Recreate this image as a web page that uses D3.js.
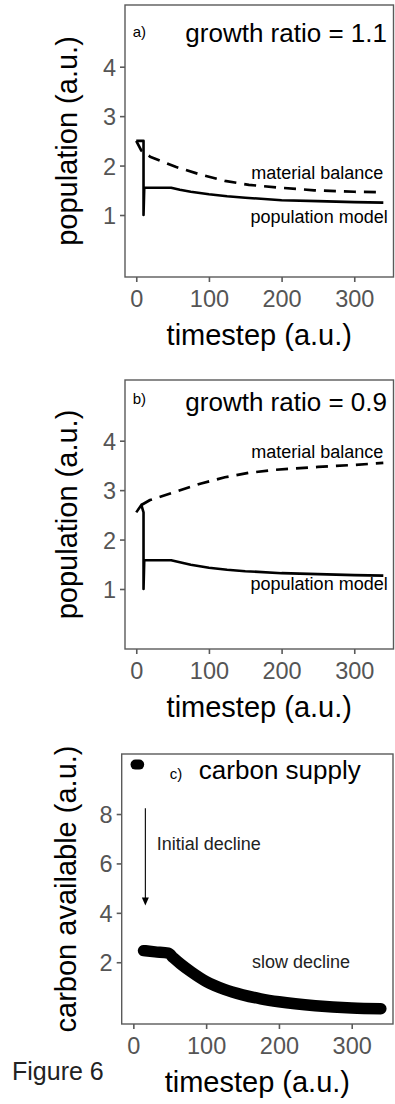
<!DOCTYPE html>
<html>
<head>
<meta charset="utf-8">
<script src="https://cdn.jsdelivr.net/npm/d3@7"></script>
<style>
  body { margin: 0; background: #fff; }
  svg text { font-family: "Liberation Sans", Arial, sans-serif; }
</style>
</head>
<body>
<svg id="graph" width="395" height="1104"></svg>
<script>
// population model and material balance, panel a (growth ratio 1.1)
var popA = [[0,2.5],[10,2.5],[10,1.0],[11,1.55],[48,1.55],[60,1.51],[75,1.47],[100,1.42],[125,1.38],[150,1.35],[200,1.30],[250,1.28],[300,1.26],[340,1.25]]
var matA = [[0,2.5],[7,2.3],[19,2.18],[55,1.97],[88,1.82],[122,1.69],[155,1.61],[200,1.55],[245,1.50],[300,1.47],[340,1.46]]

// panel b (growth ratio 0.9)
var popB = [[0,2.55],[7,2.7],[10,2.55],[10,1.0],[11,1.58],[48,1.58],[60,1.54],[75,1.49],[100,1.43],[125,1.39],[150,1.36],[200,1.32],[250,1.30],[300,1.28],[340,1.27]]
var matB = [[7,2.7],[19,2.8],[55,2.97],[88,3.13],[122,3.26],[155,3.35],[190,3.41],[250,3.47],[300,3.51],[340,3.55]]

// panel c, carbon supply
var carbonStart = [[3,10.0],[8,10.0]]
var carbonRest = [[14,2.47],[30,2.42],[48,2.37],[55,2.18],[65,1.93],[80,1.60],[100,1.22],[125,0.9],[150,0.68],[175,0.52],[200,0.40],[250,0.24],[300,0.15],[340,0.12]]
var arrowC = [[16.5,8.23],[16.5,4.3]]

var xTicks = [0, 100, 200, 300]
var popTicks = [1, 2, 3, 4]
var carbonTicks = [2, 4, 6, 8]

var svg = d3.select("#graph")

var drawPanel = function(p)
{
    var g = svg.append("g")

    var xScale = d3.scaleLinear()
                    .domain(p.xDomain)
                    .range([p.left, p.right])
    var yScale = d3.scaleLinear()
                    .domain(p.yDomain)
                    .range([p.bottom, p.top])

    // panel border
    g.append("rect")
        .attr("x", p.left)
        .attr("y", p.top)
        .attr("width", p.right - p.left)
        .attr("height", p.bottom - p.top)
        .attr("fill", "none")
        .attr("stroke", "#5a5a5a")
        .attr("stroke-width", 1.4)

    var xAxis = g.append("g")
        .attr("transform", "translate(0," + p.bottom + ")")
        .call(d3.axisBottom(xScale).tickValues(xTicks).tickFormat(d3.format("d")).tickSize(5).tickPadding(3))
    var yAxis = g.append("g")
        .attr("transform", "translate(" + p.left + ",0)")
        .call(d3.axisLeft(yScale).tickValues(p.yTicks).tickFormat(d3.format("d")).tickSize(5).tickPadding(4))

    ;[xAxis, yAxis].forEach(function(ax)
    {
        ax.select(".domain").remove()
        ax.selectAll("line").attr("stroke", "#5a5a5a").attr("stroke-width", 1.6)
        ax.selectAll("text")
            .attr("fill", "#555")
            .style("font-family", "Liberation Sans, Arial, sans-serif")
            .style("font-size", "23.5px")
    })
    xAxis.selectAll("text").attr("dy", "0.95em")
    yAxis.selectAll("text").attr("dy", "0.36em")

    // axis titles
    g.append("text")
        .attr("x", (p.left + p.right) / 2)
        .attr("y", p.bottom + 68)
        .attr("text-anchor", "middle")
        .style("font-size", "29px")
        .text("timestep (a.u.)")
    g.append("text")
        .attr("transform", "translate(" + p.yTitleX + "," + (p.top + p.bottom) / 2 + ") rotate(-90)")
        .attr("text-anchor", "middle")
        .style("font-size", "29px")
        .text(p.yTitle)

    var line = d3.line()
        .x(function(d) { return xScale(d[0]) })
        .y(function(d) { return yScale(d[1]) })

    p.lines.forEach(function(l)
    {
        g.append("path")
            .datum(l.data)
            .attr("d", l.smooth ? line.curve(d3.curveMonotoneX)(l.data) : line.curve(d3.curveLinear)(l.data))
            .attr("fill", "none")
            .attr("stroke", "#000")
            .attr("stroke-width", l.width)
            .attr("stroke-linecap", l.cap || "butt")
            .attr("stroke-linejoin", "round")
            .attr("stroke-dasharray", l.dash || null)
    })

    if (p.arrow)
    {
        var a = p.arrow
        var x0 = xScale(a[0][0]), y0 = yScale(a[0][1])
        var x1 = xScale(a[1][0]), y1 = yScale(a[1][1])
        g.append("line")
            .attr("x1", x0).attr("y1", y0)
            .attr("x2", x1).attr("y2", y1 - 6)
            .attr("stroke", "#000")
            .attr("stroke-width", 1.1)
        g.append("path")
            .attr("d", "M" + (x1 - 3.5) + "," + (y1 - 8) + "L" + (x1 + 3.5) + "," + (y1 - 8) + "L" + x1 + "," + y1 + "Z")
            .attr("fill", "#000")
    }

    p.labels.forEach(function(t)
    {
        g.append("text")
            .attr("x", xScale(t.x))
            .attr("y", yScale(t.y))
            .attr("text-anchor", t.anchor)
            .attr("fill", t.color || "#000")
            .style("font-size", t.size + "px")
            .text(t.text)
    })
}

drawPanel({
    left: 125, right: 393.5, top: 5, bottom: 277,
    xDomain: [-15.5, 354], yDomain: [-0.254, 5.248],
    yTicks: popTicks, yTitle: "population (a.u.)", yTitleX: 77,
    lines: [
        {data: popA, width: 2.6},
        {data: matA, width: 2.7, dash: "12,8"}
    ],
    labels: [
        {text: "a)", x: -5, y: 4.6, anchor: "start", size: 15},
        {text: "growth ratio = 1.1", x: 345, y: 4.5, anchor: "end", size: 26},
        {text: "material balance", x: 340, y: 1.73, anchor: "end", size: 18},
        {text: "population model", x: 346, y: 0.84, anchor: "end", size: 18}
    ]
})

drawPanel({
    left: 125, right: 393.5, top: 380, bottom: 649,
    xDomain: [-15.5, 354], yDomain: [-0.214, 5.228],
    yTicks: popTicks, yTitle: "population (a.u.)", yTitleX: 77,
    lines: [
        {data: popB, width: 2.6},
        {data: matB, width: 2.7, dash: "12,8"}
    ],
    labels: [
        {text: "b)", x: -5, y: 4.75, anchor: "start", size: 15},
        {text: "growth ratio = 0.9", x: 345, y: 4.6, anchor: "end", size: 26},
        {text: "material balance", x: 340, y: 3.66, anchor: "end", size: 18},
        {text: "population model", x: 346, y: 0.97, anchor: "end", size: 18}
    ]
})

drawPanel({
    left: 121.7, right: 393, top: 754, bottom: 1024,
    xDomain: [-16, 356.7], yDomain: [-0.5, 10.43],
    yTicks: carbonTicks, yTitle: "carbon available (a.u.)", yTitleX: 76,
    lines: [
        {data: carbonStart, width: 10, cap: "round"},
        {data: carbonRest, width: 11.5, cap: "round", smooth: true}
    ],
    arrow: arrowC,
    labels: [
        {text: "c)", x: 50, y: 9.4, anchor: "start", size: 15},
        {text: "carbon supply", x: 90, y: 9.4, anchor: "start", size: 26},
        {text: "Initial decline", x: 32, y: 6.55, anchor: "start", size: 18, color: "#222"},
        {text: "slow decline", x: 163, y: 1.75, anchor: "start", size: 18, color: "#222"}
    ]
})

svg.append("text")
    .attr("x", 12)
    .attr("y", 1080)
    .attr("fill", "#222")
    .style("font-size", "25px")
    .text("Figure 6")
</script>
</body>
</html>
